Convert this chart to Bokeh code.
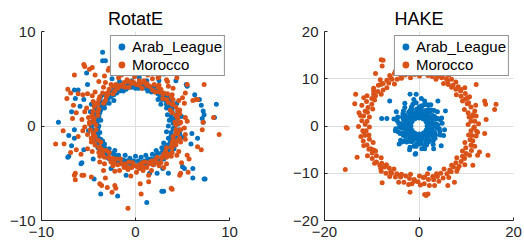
from bokeh.plotting import figure
from bokeh.layouts import row
from bokeh.models import Range1d, FixedTicker
from bokeh.embed import file_html
from bokeh.resources import INLINE

# ---------------- data ----------------
titles = ["RotatE", "HAKE"]
series_names = ["Arab_League", "Morocco"]
rotate_ticks_x = [-10, 0, 10]
rotate_ticks_y = [-10, 0, 10]
hake_ticks_x = [-20, 0, 20]
hake_ticks_y = [-20, -10, 0, 10, 20]
rotate_limits = [-10, 10]
hake_limits = [-20, 20]

rotate_arab = [
    (3.5, 0.0), (4.5, 0.2), (3.6, 0.6), (4.2, 0.8), (3.4, 1.2), (4.5, 1.6), (3.3, 1.9), (3.8, 2.2),
    (2.7, 2.3), (3.5, 3.0), (2.4, 2.8), (2.7, 3.2), (2.1, 3.6), (2.4, 4.1), (1.3, 3.7), (1.5, 4.1),
    (0.7, 4.0), (0.8, 4.4), (0.0, 4.0), (-0.1, 4.3), (-0.7, 4.1), (-0.8, 4.5), (-1.3, 3.7), (-1.4, 3.9),
    (-2.0, 3.5), (-2.3, 3.9), (-2.3, 2.7), (-2.8, 3.4), (-2.8, 2.4), (-3.7, 3.1), (-3.3, 1.9), (-3.7, 2.2),
    (-3.8, 1.4), (-4.3, 1.6), (-3.7, 0.6), (-4.3, 0.8), (-3.9, 0.0), (-4.7, -0.1), (-3.8, -0.7), (-4.2, -0.7),
    (-3.7, -1.4), (-4.2, -1.5), (-3.3, -1.9), (-4.0, -2.3), (-2.8, -2.4), (-3.2, -2.7), (-2.2, -2.6), (-2.9, -3.4),
    (-1.8, -3.1), (-2.2, -3.8), (-1.1, -3.1), (-1.5, -4.0), (-0.6, -3.4), (-0.8, -4.5), (0.0, -3.2), (0.1, -4.2),
    (0.6, -3.3), (0.8, -4.4), (1.1, -3.1), (1.4, -3.9), (1.8, -3.0), (2.2, -3.8), (2.2, -2.6), (3.0, -3.5),
    (2.8, -2.3), (3.3, -2.8), (3.0, -1.8), (4.1, -2.4), (3.5, -1.3), (4.1, -1.5), (3.3, -0.6), (4.7, -0.8),
    (4.0, 0.3), (3.8, 1.0), (3.7, 1.7), (3.3, 2.3), (2.8, 2.8), (2.4, 3.4), (1.7, 3.6), (1.1, 4.0),
    (0.3, 4.0), (-0.4, 4.1), (-1.0, 3.9), (-1.7, 3.7), (-2.3, 3.3), (-2.9, 2.9), (-3.3, 2.3), (-3.7, 1.7),
    (-3.9, 1.0), (-4.1, 0.4), (-4.0, -0.3), (-4.0, -1.1), (-3.5, -1.6), (-3.3, -2.3), (-2.8, -2.8), (-2.2, -3.1),
    (-1.6, -3.5), (-1.0, -3.7), (-0.3, -3.9), (0.3, -3.7), (1.0, -3.7), (1.6, -3.5), (2.2, -3.1), (2.8, -2.8),
    (3.2, -2.2), (3.7, -1.7), (3.8, -1.0), (4.0, -0.3),
    (4.4, 0.4), (4.4, 1.2), (3.9, 1.8), (3.8, 2.7), (3.1, 3.1), (2.6, 3.8), (1.9, 4.1), (1.2, 4.5),
    (0.4, 4.6), (-0.4, 4.8), (-1.2, 4.3), (-2.0, 4.3), (-2.5, 3.6), (-3.3, 3.3), (-3.7, 2.6), (-4.3, 2.0),
    (-4.3, 1.1), (-4.6, 0.4), (-4.5, -0.4), (-4.5, -1.2), (-4.0, -1.9), (-3.8, -2.6), (-3.0, -3.0), (-2.6, -3.7),
    (-1.8, -3.8), (-1.1, -4.3), (-0.4, -4.1), (0.4, -4.4), (1.1, -4.1), (1.9, -4.1), (2.5, -3.5), (3.2, -3.2),
    (3.5, -2.5), (4.2, -1.9), (4.3, -1.1), (4.6, -0.4),
    (4.1, -0.2), (3.9, 0.7), (3.9, 1.4), (3.5, 2.0), (3.2, 2.7), (2.6, 3.1), (2.2, 3.7), (1.4, 3.9),
    (0.7, 4.2), (0.2, 4.2), (-0.7, 4.2), (-1.4, 3.8), (-2.1, 3.6), (-2.6, 3.1), (-3.2, 2.7), (-3.5, 2.0),
    (-3.9, 1.4), (-4.0, 0.7), (-4.3, 0.2), (-4.0, -0.7), (-3.9, -1.4), (-3.4, -2.0), (-3.1, -2.6), (-2.4, -2.9),
    (-2.0, -3.5), (-1.3, -3.6), (-0.7, -3.9), (-0.2, -3.7), (0.7, -3.8), (1.3, -3.5), (2.0, -3.5), (2.4, -2.9),
    (3.1, -2.6), (3.4, -2.0), (3.9, -1.4), (3.8, -0.7),
    (4.9, 1.0), (5.0, -1.2), (-5.0, -0.5), (-4.8, 1.5), (1.5, -5.0), (-1.0, -5.2), (2.5, 4.8), (-2.5, 5.0),
    (-8.2, 0.4), (-3.5, 7.8), (-3.5, 6.9), (-3.2, 6.9), (-5.2, 5.6), (-5.1, 4.4), (-6.5, 3.8), (-6.4, 2.9),
    (-6.8, 1.5), (-5.9, 2.1), (-5.5, 2.8), (-4.7, 2.3), (-1.7, 4.7), (6.8, 2.8), (8.6, 2.3), (7.0, 2.2),
    (7.3, 1.2), (8.4, 0.9), (7.2, 0.4), (4.4, 2.4), (6.3, 3.3), (4.3, 4.8), (5.4, 4.4), (1.2, 4.8),
    (0.4, 5.1), (-6.5, -0.4), (-7.1, -1.0), (-6.5, -1.3), (-5.5, -2.5), (-5.7, -3.9), (-4.5, -3.5), (-7.2, -3.3),
    (-3.7, -7.2), (-1.9, -7.4), (-2.6, -4.5), (6.6, -1.3), (6.0, -0.8), (5.2, -4.5), (6.1, -4.5), (7.3, -5.6),
    (2.8, -6.9), (1.2, -8.1), (3.5, -5.0), (2.9, -4.5), (2.3, -5.0), (-6.1, 3.8), (-6.8, -2.1), (-7.1, -3.2),
    (-5.8, -4.0), (-4.4, -5.6), (3.0, -6.9), (7.4, -5.6), (6.1, -5.5), (5.0, -4.3), (5.9, -1.9), (7.1, 0.8),
    (7.2, 1.6), (5.5, 4.2), (3.0, 5.5),
]

rotate_morocco = [
    (4.3, 0.1), (5.2, -0.2), (4.5, 0.8), (5.3, 0.9), (3.9, 1.4), (4.7, 1.7), (3.9, 2.3), (4.6, 2.7),
    (3.3, 2.8), (3.9, 3.3), (3.0, 3.5), (3.5, 4.2), (2.1, 3.6), (2.5, 4.3), (1.5, 4.2), (1.8, 5.0),
    (0.7, 4.0), (0.9, 4.8), (0.1, 4.4), (-0.1, 5.2), (-0.7, 4.1), (-0.9, 4.9), (-1.6, 4.3), (-1.8, 5.1),
    (-2.2, 3.7), (-2.6, 4.4), (-2.9, 3.4), (-3.4, 4.1), (-3.2, 2.7), (-4.3, 3.6), (-4.0, 2.3), (-4.5, 2.6),
    (-4.0, 1.5), (-5.2, 1.9), (-4.4, 0.8), (-5.0, 0.9), (-4.2, 0.1), (-5.4, -0.1), (-4.5, -0.8), (-5.1, -0.9),
    (-4.0, -1.5), (-4.7, -1.7), (-3.9, -2.3), (-4.6, -2.7), (-3.1, -2.6), (-3.8, -3.2), (-2.8, -3.4), (-3.3, -4.0),
    (-2.0, -3.5), (-2.4, -4.2), (-1.5, -4.0), (-1.7, -4.7), (-0.7, -3.8), (-0.8, -4.6), (0.0, -4.2), (0.1, -4.9),
    (0.7, -3.9), (0.8, -4.7), (1.5, -4.0), (1.7, -4.7), (2.1, -3.6), (2.5, -4.2), (2.8, -3.4), (3.3, -4.0),
    (3.2, -2.7), (3.8, -3.2), (3.9, -2.3), (4.6, -2.7), (4.0, -1.5), (4.8, -1.7), (4.5, -0.8), (5.3, -0.9),
    (4.8, 0.4), (4.7, 1.3), (4.3, 2.0), (4.0, 2.8), (3.4, 3.4), (2.7, 3.9), (2.0, 4.4), (1.2, 4.5),
    (0.4, 4.8), (-0.4, 4.7), (-1.2, 4.6), (-2.1, 4.4), (-2.8, 3.9), (-3.5, 3.5), (-3.9, 2.8), (-4.4, 2.1),
    (-4.6, 1.2), (-4.9, 0.4), (-4.8, -0.4), (-4.7, -1.3), (-4.3, -2.0), (-3.9, -2.8), (-3.3, -3.3), (-2.6, -3.8),
    (-1.9, -4.1), (-1.2, -4.4), (-0.4, -4.4), (0.4, -4.5), (1.2, -4.4), (1.9, -4.1), (2.7, -3.9), (3.3, -3.3),
    (3.9, -2.8), (4.3, -2.0), (4.7, -1.3), (4.8, -0.4),
    (4.2, 0.4), (4.3, 1.1), (3.7, 1.7), (3.5, 2.5), (2.9, 2.9), (2.5, 3.6), (1.8, 3.8), (1.2, 4.3),
    (0.4, 4.3), (-0.4, 4.5), (-1.1, 4.1), (-1.9, 4.0), (-2.4, 3.4), (-3.1, 3.1), (-3.4, 2.4), (-3.9, 1.8),
    (-4.0, 1.1), (-4.4, 0.4), (-4.2, -0.4), (-4.3, -1.1), (-3.7, -1.7), (-3.5, -2.5), (-2.8, -2.8), (-2.4, -3.4),
    (-1.6, -3.5), (-1.1, -4.0), (-0.3, -3.9), (0.4, -4.1), (1.0, -3.8), (1.7, -3.7), (2.3, -3.3), (3.0, -3.0),
    (3.3, -2.3), (3.9, -1.8), (4.0, -1.1), (4.3, -0.4),
    (4.7, 0.3), (4.4, 1.0), (4.5, 1.6), (4.0, 2.3), (3.8, 3.1), (2.9, 3.4), (2.4, 4.1), (1.5, 4.2),
    (0.8, 4.6), (-0.2, 4.6), (-0.8, 4.7), (-1.5, 4.2), (-2.4, 4.2), (-3.0, 3.5), (-3.8, 3.1), (-4.1, 2.4),
    (-4.5, 1.6), (-4.5, 0.8), (-4.9, 0.2), (-4.5, -0.8), (-4.5, -1.6), (-3.8, -2.2), (-3.5, -3.0), (-2.8, -3.3),
    (-2.3, -3.9), (-1.5, -4.0), (-0.8, -4.4), (0.2, -4.3), (0.8, -4.3), (1.4, -3.9), (2.3, -3.9), (2.8, -3.3),
    (3.5, -3.0), (3.8, -2.2), (4.4, -1.6), (4.3, -0.8),
    (5.5, 0.5), (5.2, 2.4), (4.0, 4.0), (2.4, 5.1), (0.5, 5.6), (-1.5, 5.4), (-3.2, 4.6), (-4.6, 3.2),
    (-5.4, 1.5), (-5.6, -0.5), (-5.1, -2.4), (-3.8, -3.8), (-2.2, -4.8), (-0.5, -5.3), (1.4, -5.2), (3.0, -4.4),
    (4.4, -3.1), (5.3, -1.4),
    (-5.5, 6.5), (-4.9, 6.0), (-6.5, 5.4), (-7.2, 3.9), (-6.9, 3.5), (-6.1, 3.4), (-7.3, 2.9), (-6.6, 2.2),
    (-6.3, 1.4), (-6.7, 0.8), (-5.7, 0.7), (-5.6, 3.3), (-4.6, 6.2), (-4.3, 5.4), (-3.9, 4.7), (-3.3, 5.3),
    (-5.1, 3.4), (-2.9, 5.9), (7.3, 4.4), (5.5, 4.4), (6.4, 2.8), (4.4, 5.1), (5.3, 3.5), (2.5, 5.2),
    (3.4, 4.7), (8.9, -0.9), (8.3, 0.9), (7.2, 0.4), (6.6, -2.2), (7.0, -2.5), (5.5, -3.1), (4.9, -3.9),
    (4.8, -5.0), (3.9, -6.7), (0.6, -7.2), (-0.8, -8.7), (-2.2, -6.3), (-2.5, -7.0), (-3.8, -6.1), (-5.5, -5.2),
    (-6.4, -5.7), (-6.4, -5.0), (-8.5, -1.9), (-7.6, -1.9), (-7.7, -0.5), (-6.1, -1.1), (6.1, 2.7), (6.6, 2.8),
    (5.0, 3.0), (-6.3, -2.5), (-5.8, -3.0), (-6.9, -2.8), (-6.5, -5.2), (-5.7, -5.2), (-4.7, -5.4), (-3.4, -4.7),
    (-3.6, -6.3), (-3.0, -6.5), (-2.1, -6.6), (-3.2, -5.5), (7.1, -0.4), (5.7, -3.5), (5.6, -4.9), (4.7, -5.2),
    (3.8, -6.6), (0.5, -6.1), (1.4, -5.9), (-5.4, 6.3), (-2.1, 5.8), (-2.8, 6.1), (1.3, 5.4), (3.3, 4.9),
]

hake_arab = [
    (1.7, 0.0), (1.5, 0.9), (0.9, 1.5), (0.0, 1.7), (-0.9, 1.5), (-1.5, 0.9), (-1.7, 0.0), (-1.5, -0.9),
    (-0.9, -1.5), (0.0, -1.7), (0.9, -1.5), (1.5, -0.9),
    (2.3, 0.6), (1.7, 1.7), (0.6, 2.3), (-0.6, 2.3), (-1.7, 1.7), (-2.3, 0.6), (-2.3, -0.6), (-1.7, -1.7),
    (-0.6, -2.3), (0.6, -2.3), (1.7, -1.7), (2.3, -0.6),
    (3.1, 0.0), (2.7, 1.6), (1.6, 2.7), (0.0, 3.1), (-1.6, 2.7), (-2.7, 1.6), (-3.1, 0.0), (-2.7, -1.6),
    (-1.6, -2.7), (0.0, -3.1), (1.6, -2.7), (2.7, -1.6),
    (2.8, 0.8), (2.0, 2.1), (0.7, 2.9), (-0.8, 2.8), (-2.1, 2.0), (-2.9, 0.7), (-2.8, -0.8), (-2.0, -2.1),
    (-0.7, -2.8), (0.8, -2.8), (2.1, -2.0), (2.8, -0.7),
    (4.0, 0.2), (3.3, 2.0), (2.0, 3.5), (0.1, 4.1), (-1.9, 3.3), (-3.5, 1.9), (-4.1, -0.2), (-3.3, -2.0),
    (-1.8, -3.3), (0.2, -3.8), (2.0, -3.4), (3.5, -1.9),
    (4.5, 1.3), (3.2, 3.3), (1.2, 4.5), (-1.3, 4.6), (-3.3, 3.2), (-4.6, 1.1), (-4.4, -1.2), (-3.1, -3.2),
    (-1.1, -4.3), (1.2, -4.2), (3.0, -3.1), (4.4, -1.2),
    (3.6, 0.5), (2.9, 2.2), (1.4, 3.3), (-0.5, 3.6), (-2.2, 2.9), (-3.3, 1.4), (-3.6, -0.5), (-2.9, -2.2),
    (-1.4, -3.3), (0.5, -3.6), (2.2, -2.9), (3.3, -1.4),
    (4.0, 1.6), (2.6, 3.4), (0.6, 4.3), (-1.6, 4.0), (-3.4, 2.6), (-4.3, 0.6), (-4.0, -1.6), (-2.6, -3.4),
    (-0.6, -4.3), (1.6, -4.0), (3.4, -2.6), (4.3, -0.6),
    (1.9, 0.8), (1.3, 1.7), (0.3, 2.1), (-0.8, 1.9), (-1.7, 1.3), (-2.1, 0.3), (-1.9, -0.8), (-1.3, -1.7),
    (-0.3, -2.1), (0.8, -1.9), (1.7, -1.3), (2.1, -0.3),
    (2.6, 0.3), (2.1, 1.6), (1.0, 2.4), (-0.3, 2.6), (-1.6, 2.1), (-2.4, 1.0), (-2.6, -0.3), (-2.1, -1.6),
    (-1.0, -2.4), (0.3, -2.6), (1.6, -2.1), (2.4, -1.0),
    (3.5, 1.5), (2.3, 3.0), (0.5, 3.8), (-1.5, 3.5), (-3.0, 2.3), (-3.8, 0.5), (-3.5, -1.5), (-2.3, -3.0),
    (-0.5, -3.8), (1.5, -3.5), (3.0, -2.3), (3.8, -0.5),
    (4.9, 0.6), (3.9, 3.0), (1.9, 4.5), (-0.6, 4.9), (-3.0, 3.9), (-4.5, 1.9), (-4.9, -0.6), (-3.9, -3.0),
    (-1.9, -4.5), (0.6, -4.8), (3.0, -3.9), (4.5, -1.9),
    (1.9, 0.2), (1.5, 1.2), (0.7, 1.8), (-0.2, 1.9), (-1.2, 1.5), (-1.8, 0.7), (-1.9, -0.2), (-1.5, -1.2),
    (-0.7, -1.8), (0.2, -1.9), (1.2, -1.5), (1.8, -0.7),
    (-0.6, 6.7), (-6.2, 5.3), (-7.9, 1.6), (-6.8, 1.6), (5.6, 3.2), (2.2, -9.0), (-0.8, -6.0), (4.7, -4.2),
    (5.4, -0.8), (-1.9, 6.7), (-1.1, 5.6), (4.0, 5.3), (1.2, 5.3), (4.8, 1.7), (3.1, -4.8), (1.2, -4.8),
    (-3.6, -3.4), (-0.7, -5.8), (-5.0, -1.0), (-5.3, 1.5), (-4.8, 3.0), (-3.0, 4.8), (0.5, 5.8), (2.5, 4.5),
    (5.2, -2.0), (-2.0, -5.0), (-4.2, -3.8),
]

hake_morocco = [
    (10.4, 0.3), (11.6, -0.4), (12.6, 0.5), (10.6, 1.9), (11.2, 2.0), (12.1, 2.1), (9.6, 3.5), (11.0, 4.0),
    (12.0, 4.4), (9.2, 5.3), (9.8, 5.7), (10.7, 6.2), (7.9, 6.6), (8.8, 7.4), (9.7, 8.1), (6.9, 8.2),
    (7.2, 8.6), (7.8, 9.3), (5.2, 9.0), (5.8, 10.0), (6.3, 10.8), (3.6, 9.9), (3.9, 10.6), (4.2, 11.5),
    (1.9, 10.7), (2.0, 11.3), (2.2, 12.4), (0.1, 10.6), (-0.2, 11.4), (0.2, 12.3), (-1.8, 10.2), (-2.0, 11.5),
    (-2.2, 12.3), (-3.7, 10.1), (-3.9, 10.8), (-4.3, 11.9), (-5.2, 8.9), (-5.7, 9.9), (-6.2, 10.7), (-6.8, 8.1),
    (-7.6, 9.0), (-8.2, 9.8), (-8.0, 6.7), (-8.7, 7.3), (-9.6, 8.0), (-9.4, 5.5), (-10.0, 5.8), (-11.0, 6.4),
    (-9.8, 3.6), (-10.8, 3.9), (-12.1, 4.4), (-10.5, 1.9), (-11.7, 2.1), (-12.4, 2.2), (-10.5, -0.2), (-11.4, 0.3),
    (-12.8, -0.1), (-10.6, -1.9), (-11.4, -2.0), (-12.3, -2.2), (-9.7, -3.5), (-11.0, -4.0), (-11.7, -4.2), (-9.2, -5.3),
    (-9.9, -5.7), (-10.9, -6.3), (-8.0, -6.7), (-9.0, -7.6), (-9.4, -7.9), (-6.9, -8.2), (-7.3, -8.7), (-8.0, -9.6),
    (-5.3, -9.1), (-5.8, -10.0), (-6.2, -10.7), (-3.7, -10.2), (-3.9, -10.8), (-4.3, -11.9), (-1.8, -10.2), (-2.0, -11.1),
    (-2.2, -12.4), (0.1, -10.6), (-0.2, -11.8), (0.3, -12.5), (1.8, -10.1), (2.0, -11.3), (2.2, -12.6), (3.7, -10.1),
    (3.9, -10.7), (4.2, -11.7), (5.3, -9.1), (5.9, -10.1), (6.3, -10.9), (6.9, -8.3), (7.3, -8.7), (8.0, -9.6),
    (8.0, -6.7), (8.9, -7.5), (9.7, -8.2), (9.2, -5.3), (10.0, -5.8), (10.7, -6.2), (9.7, -3.5), (11.1, -4.0),
    (11.8, -4.3), (10.5, -1.9), (11.2, -2.0), (12.1, -2.1),
    (11.0, 1.0), (10.4, 2.8), (10.2, 4.7), (8.9, 6.3), (7.8, 7.8), (6.2, 8.8), (4.8, 10.2), (2.8, 10.5),
    (1.0, 11.2), (-0.9, 10.9), (-2.9, 10.8), (-4.6, 9.9), (-6.4, 9.1), (-7.6, 7.6), (-9.2, 6.4), (-10.0, 4.6),
    (-10.9, 2.9), (-11.0, 1.0), (-11.2, -1.0), (-10.5, -2.8), (-10.2, -4.8), (-9.0, -6.3), (-7.9, -7.9), (-6.3, -8.9),
    (-4.7, -10.1), (-2.8, -10.6), (-1.0, -11.3), (0.9, -10.9), (2.9, -10.7), (4.6, -10.0), (6.5, -9.3), (7.8, -7.8),
    (9.2, -6.4), (9.9, -4.6), (10.8, -2.9), (11.0, -1.0),
    (11.8, 1.0), (11.8, 3.2), (10.5, 4.9), (9.8, 6.9), (8.3, 8.3), (6.9, 9.9), (5.0, 10.7), (3.2, 11.8),
    (1.0, 11.9), (-1.1, 12.1), (-3.0, 11.3), (-5.2, 11.1), (-6.8, 9.7), (-8.6, 8.6), (-9.6, 6.7), (-11.1, 5.2),
    (-11.4, 3.1), (-12.1, 1.1), (-11.9, -1.0), (-11.8, -3.2), (-10.6, -4.9), (-9.9, -6.9), (-8.3, -8.3), (-7.0, -10.0),
    (-5.0, -10.8), (-3.2, -11.9), (-1.0, -11.7), (1.1, -12.2), (3.1, -11.4), (5.1, -11.0), (6.8, -9.7), (8.5, -8.5),
    (9.6, -6.7), (11.1, -5.2), (11.4, -3.1), (12.2, -1.1),
    (-9.2, 11.1), (-7.6, 13.9), (-7.8, 12.7), (-13.4, 6.7), (-13.6, 4.7), (-12.7, 2.8), (-9.6, 7.4), (-8.1, 8.8),
    (-6.0, 10.2), (-5.0, 11.6), (-3.9, 12.3), (-15.2, -0.5), (-15.6, -9.2), (-13.1, -6.6), (-11.7, -1.3), (-9.6, -5.1),
    (-8.1, -9.0), (-7.8, -12.0), (-6.0, -9.7), (-3.9, -10.4), (-1.9, -14.0), (-1.5, -12.2), (1.2, -10.8), (1.5, -14.7),
    (1.9, -14.4), (3.3, -12.6), (6.1, -12.6), (7.5, -11.9), (8.2, -9.0), (11.4, -8.3), (11.0, -4.1), (12.8, -5.5),
    (14.6, -6.2), (12.4, -1.3), (13.9, -1.6), (11.7, -0.2), (9.6, -6.9), (4.0, 10.6), (6.1, 9.5), (8.9, 7.7),
    (10.3, 6.0), (12.1, 8.8), (13.9, 5.3), (16.3, 4.6), (16.0, 3.5), (14.2, 1.4), (11.4, 2.4), (10.7, 11.3),
    (4.7, 11.3), (0.8, 11.6), (-8.0, 14.0), (-15.4, -0.3), (14.1, 4.6), (12.4, -6.2), (1.2, -14.5), (-11.7, 6.0),
]

# ---------------- styling ----------------
BLUE = "#0072BD"
ORANGE = "#D95319"
AXIS = "#262626"
GRID = "#dfdfdf"
FONT = "Liberation Sans"


def make_panel(title, limits, xticks, yticks, arab, morocco, width, border_right):
    p = figure(width=width, height=246, output_backend="svg", toolbar_location=None,
               x_range=Range1d(limits[0], limits[1]), y_range=Range1d(limits[0], limits[1]),
               min_border_left=41, min_border_right=border_right,
               min_border_top=31, min_border_bottom=26, title=title)
    p.outline_line_color = None
    p.background_fill_color = "white"
    p.border_fill_color = "white"

    p.title.align = "center"
    p.title.text_font = FONT
    p.title.text_font_size = "18px"
    p.title.text_font_style = "normal"
    p.title.text_color = "black"
    p.title.standoff = 6

    p.scatter([a[0] for a in arab], [a[1] for a in arab], size=5, fill_color=BLUE,
              line_color=None, legend_label=series_names[0])
    p.scatter([m[0] for m in morocco], [m[1] for m in morocco], size=5, fill_color=ORANGE,
              line_color=None, legend_label=series_names[1])

    p.xaxis.ticker = FixedTicker(ticks=xticks)
    p.yaxis.ticker = FixedTicker(ticks=yticks)
    p.xgrid.ticker = FixedTicker(ticks=xticks)
    p.ygrid.ticker = FixedTicker(ticks=yticks)
    p.grid.grid_line_color = GRID
    p.grid.grid_line_width = 1

    for ax in (p.xaxis, p.yaxis):
        ax.axis_line_color = AXIS
        ax.axis_line_width = 1
        ax.major_tick_line_color = AXIS
        ax.major_tick_in = 3
        ax.major_tick_out = 0
        ax.minor_tick_line_color = None
        ax.major_label_text_font = FONT
        ax.major_label_text_font_size = "15px"
        ax.major_label_text_color = AXIS
    p.xaxis.major_label_standoff = 6
    p.yaxis.major_label_standoff = 6

    leg = p.legend[0]
    leg.location = "top_right"
    leg.margin = 4
    leg.padding = 2
    leg.spacing = 1
    leg.label_height = 17
    leg.glyph_height = 17
    leg.glyph_width = 17
    leg.label_standoff = 2
    leg.label_text_font = FONT
    leg.label_text_font_size = "15px"
    leg.label_text_color = "black"
    leg.border_line_color = AXIS
    leg.border_line_width = 1
    leg.background_fill_color = "white"
    leg.background_fill_alpha = 1.0
    return p


p1 = make_panel(titles[0], rotate_limits, rotate_ticks_x, rotate_ticks_y,
                rotate_arab, rotate_morocco, width=283, border_right=54)
p2 = make_panel(titles[1], hake_limits, hake_ticks_x, hake_ticks_y,
                hake_arab, hake_morocco, width=240, border_right=10)

layout = row(p1, p2)
open("out.html", "w").write(file_html(layout, INLINE))
